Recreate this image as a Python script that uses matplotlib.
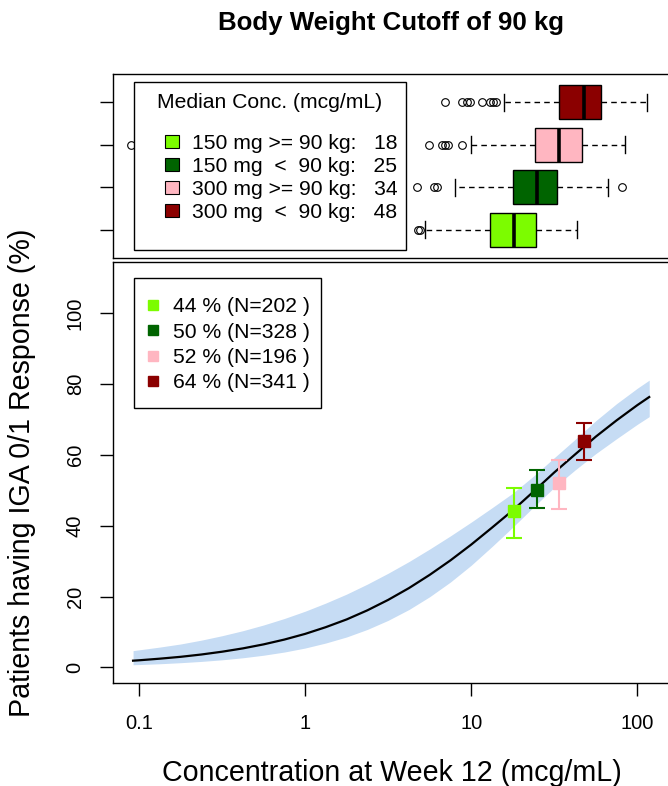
import numpy as np
import matplotlib
matplotlib.use("Agg")
import matplotlib.pyplot as plt
from matplotlib.patches import Patch, Rectangle
from matplotlib.lines import Line2D
from matplotlib.ticker import FixedLocator, NullLocator

plt.rcParams['font.family'] = ['Liberation Sans', 'DejaVu Sans']

# groups, bottom row to top row
groups = ["150 mg >= 90 kg:", "150 mg  <  90 kg:", "300 mg >= 90 kg:", "300 mg  <  90 kg:"]
colors = ["#7CFC00", "#006400", "#FFB6C1", "#8B0000"]

# week 12 concentration box summaries (mcg/mL)
med_conc = [18, 25, 34, 48]
q1_conc = [13.0, 17.9, 24.2, 33.9]
q3_conc = [24.4, 32.8, 46.2, 60.1]
whislo_conc = [5.3, 8.0, 10.0, 15.7]
whishi_conc = [43.5, 66.4, 84.3, 114.0]
fliers_conc = [
    [4.8, 4.95],
    [4.7, 6.0, 6.2, 81.3],
    [0.09, 5.6, 6.7, 6.95, 7.2, 8.75],
    [6.95, 8.75, 9.4, 9.8, 11.6, 13.0, 13.5, 14.1],
]

# observed response by group
resp_pct = [44, 50, 52, 64]
resp_lo = [36.6, 45.1, 44.7, 58.5]
resp_hi = [50.5, 55.8, 58.5, 69.1]
n_pat = [202, 328, 196, 341]

# fitted exposure-response curve with 95% band
curve_conc = [0.092, 0.1, 0.133, 0.178, 0.237, 0.316, 0.422, 0.562, 0.750,
              1.0, 1.33, 1.78, 2.37, 3.16, 4.22, 5.62, 7.50,
              10.0, 13.3, 17.8, 23.7, 31.6, 42.2, 56.2, 75.0, 100.0, 118.0]
curve_pct = [1.90, 2.01, 2.46, 2.99, 3.64, 4.43, 5.37, 6.50, 7.86,
             9.46, 11.35, 13.55, 16.11, 19.05, 22.39, 26.11, 30.21,
             34.66, 39.39, 44.33, 49.6, 55.0, 60.1, 65.1, 69.7, 74.0, 76.3]
band_lo = [0.75, 0.81, 1.03, 1.33, 1.69, 2.14, 2.72, 3.44, 4.34,
           5.47, 6.88, 8.60, 10.72, 13.28, 16.34, 19.94, 24.10,
           28.83, 34.05, 39.58, 45.24, 50.77, 55.71, 60.31, 64.52, 68.59, 70.77]
band_hi = [4.73, 4.96, 5.73, 6.61, 7.69, 8.94, 10.36, 11.97, 13.80,
           15.86, 18.15, 20.70, 23.51, 26.57, 29.87, 33.40, 37.12,
           41.0, 45.0, 49.18, 53.97, 59.16, 64.33, 69.60, 74.42, 78.77, 81.06]

W, H = 668, 786
fig = plt.figure(figsize=(W / 100, H / 100), dpi=100)

def box(l, t, r, b):
    return [l / W, 1 - b / H, (r - l) / W, (b - t) / H]

# panel edges in pixels
TOP = (113, 74, 670, 258)
BOT = (113, 262, 670, 683)
ax_box = fig.add_axes(box(*TOP))
ax = fig.add_axes(box(*BOT))

def to_axes(panel, px, py):
    l, t, r, b = panel
    return (px - l) / (r - l), (b - py) / (b - t)

def legend_frame(a, panel, l, t, r, b):
    x0, y1 = to_axes(panel, l, t)
    x1, y0 = to_axes(panel, r, b)
    a.add_patch(Rectangle((x0, y0), x1 - x0, y1 - y0, transform=a.transAxes,
                          facecolor="white", edgecolor="black", linewidth=1.0,
                          zorder=8, clip_on=False))

xlim = (10 ** -1.157, 10 ** 2.197)

# --- top: concentration boxplots
stats = []
for i in range(4):
    stats.append(dict(med=med_conc[i], q1=q1_conc[i], q3=q3_conc[i],
                      whislo=whislo_conc[i], whishi=whishi_conc[i],
                      fliers=fliers_conc[i]))
bp = ax_box.bxp(stats, positions=[1, 2, 3, 4], widths=0.8, capwidths=0.4,
                vert=False, patch_artist=True, manage_ticks=False,
                boxprops=dict(edgecolor="black", linewidth=1.0),
                medianprops=dict(color="black", linewidth=2.6, solid_capstyle="butt"),
                whiskerprops=dict(color="black", linewidth=1.0, linestyle=(0, (4, 3))),
                capprops=dict(color="black", linewidth=1.0),
                flierprops=dict(marker="o", markerfacecolor="none", markeredgecolor="black",
                                markersize=5.5, markeredgewidth=0.8))
for patch, c in zip(bp["boxes"], colors):
    patch.set_facecolor(c)

ax_box.set_xscale("log")
ax_box.set_xlim(*xlim)
ax_box.set_ylim(0.34, 4.66)
ax_box.xaxis.set_major_locator(NullLocator())
ax_box.xaxis.set_minor_locator(NullLocator())
ax_box.set_yticks([1, 2, 3, 4])
ax_box.set_yticklabels([])
ax_box.tick_params(axis="y", direction="out", length=9.4, width=1.0)

legend_frame(ax_box, TOP, 134, 82, 406, 250)
tx, ty = to_axes(TOP, 270, 102)
ax_box.text(tx, ty, "Median Conc. (mcg/mL)", transform=ax_box.transAxes,
            ha="center", va="center", fontsize=15.2, zorder=9)
box_handles = [Patch(facecolor=c, edgecolor="black", linewidth=0.8) for c in colors]
box_labels = [f"{g}   {m}" for g, m in zip(groups, med_conc)]
lx, ly = to_axes(TOP, 165, 134)
leg1 = ax_box.legend(box_handles, box_labels, loc="upper left",
                     bbox_to_anchor=(lx, ly), borderaxespad=0, borderpad=0,
                     fontsize=15.2, frameon=False, handlelength=0.67, handleheight=0.6,
                     handletextpad=0.62, labelspacing=0.19)
leg1.set_zorder(9)

# --- bottom: response curve and observed rates
ax.fill_between(curve_conc, band_lo, band_hi, color="#c6dcf4", linewidth=0)
ax.plot(curve_conc, curve_pct, color="black", linewidth=1.6)
for i in range(4):
    ax.errorbar(med_conc[i], resp_pct[i],
                yerr=[[resp_pct[i] - resp_lo[i]], [resp_hi[i] - resp_pct[i]]],
                fmt="s", color=colors[i], markersize=8.6, elinewidth=1.5,
                capsize=5.8, capthick=1.5)

ax.set_xscale("log")
ax.set_xlim(*xlim)
ax.set_ylim(-4.4, 114.4)
ax.xaxis.set_major_locator(FixedLocator([0.1, 1, 10, 100]))
ax.xaxis.set_minor_locator(NullLocator())
ax.set_xticklabels(["0.1", "1", "10", "100"])
ax.set_yticks([0, 20, 40, 60, 80, 100])
ax.tick_params(axis="both", direction="out", length=9.4, width=1.0, labelsize=14.5)
ax.tick_params(axis="x", pad=13)
ax.tick_params(axis="y", pad=11)
for lab in ax.get_yticklabels():
    lab.set_rotation(90)
    lab.set_va("center")

ax.set_xlabel("Concentration at Week 12 (mcg/mL)", fontsize=20.6, va="center")
ax.set_ylabel("Patients having IGA 0/1 Response (%)", fontsize=20.6, va="center")
ax.xaxis.set_label_coords(0.5, (683 - 773) / 421)
ax.yaxis.set_label_coords((22 - 113) / 557, 0.5)

legend_frame(ax, BOT, 134, 278, 321, 408)
resp_handles = [Line2D([], [], linestyle="none", marker="s", markersize=6.9,
                       color=c) for c in colors]
resp_labels = [f"{p} % (N={n} )" for p, n in zip(resp_pct, n_pat)]
lx, ly = to_axes(BOT, 146.7, 297.5)
leg2 = ax.legend(resp_handles, resp_labels, loc="upper left",
                 bbox_to_anchor=(lx, ly), borderaxespad=0, borderpad=0,
                 fontsize=15.2, frameon=False, handlelength=0.6,
                 handletextpad=0.66, labelspacing=0.3)
leg2.set_zorder(9)

for a in (ax_box, ax):
    for s in a.spines.values():
        s.set_linewidth(1.0)

fig.text(391 / W, 1 - 23 / H, "Body Weight Cutoff of 90 kg", fontsize=18.6,
         fontweight="bold", ha="center", va="center")

fig.savefig("out.png", dpi=100)
